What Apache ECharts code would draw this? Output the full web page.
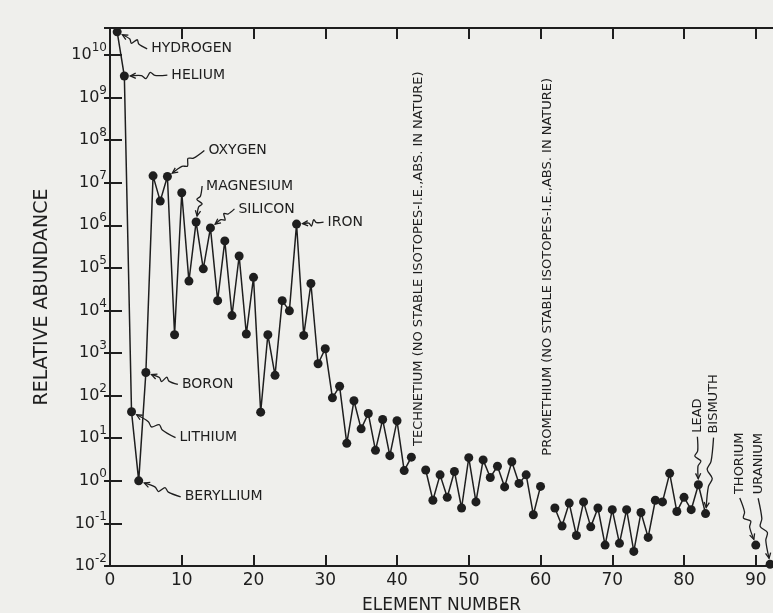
<!DOCTYPE html>
<html>
<head>
<meta charset="utf-8">
<script src="https://cdn.jsdelivr.net/npm/echarts@6/dist/echarts.min.js"></script>
<style>
  html, body { margin: 0; padding: 0; background: #efefec; }
  #main { width: 773px; height: 613px; }
</style>
</head>
<body>
<div id="main"></div>
<script>
// relative abundance, index = element number - 1 (null = no value plotted)
const abundance = [
  3.5e10, 3.2e9, 42, 1.0, 350, 1.45e7, 3.7e6, 1.4e7, 2700, 5.8e6,
  4.9e4, 1.2e6, 9.5e4, 8.7e5, 1.7e4, 4.3e5, 7600, 1.9e5, 2800, 6.0e4,
  41, 2700, 300, 1.7e4, 9800, 1.07e6, 2600, 4.3e4, 560, 1260,
  89, 166, 7.6, 76, 16.6, 38, 5.2, 27.5, 3.9, 25.7,
  1.74, 3.6, null, 1.8, 0.35, 1.38, 0.41, 1.66, 0.23, 3.5,
  0.32, 3.1, 1.2, 2.2, 0.72, 2.8, 0.87, 1.38, 0.16, 0.74,
  null, 0.23, 0.087, 0.30, 0.052, 0.32, 0.083, 0.23, 0.031, 0.21,
  0.034, 0.21, 0.022, 0.18, 0.047, 0.35, 0.32, 1.5, 0.19, 0.41,
  0.21, 0.81, 0.17, null, null, null, null, null, null, 0.031,
  null, 0.011
];
const xTicks = [0, 10, 20, 30, 40, 50, 60, 70, 80, 90];
const yTickExponents = [-2, -1, 0, 1, 2, 3, 4, 5, 6, 7, 8, 9, 10];

// labelled elements: text sits at (dx, dy) px from the point
const sideLabels = [
  { el: 1, text: 'HYDROGEN', dx: 34, dy: 17 },
  { el: 2, text: 'HELIUM', dx: 47, dy: -1 },
  { el: 8, text: 'OXYGEN', dx: 41, dy: -26 },
  { el: 12, text: 'MAGNESIUM', dx: 10, dy: -36 },
  { el: 14, text: 'SILICON', dx: 28, dy: -19 },
  { el: 26, text: 'IRON', dx: 31, dy: -2 },
  { el: 5, text: 'BORON', dx: 36, dy: 12 },
  { el: 3, text: 'LITHIUM', dx: 48, dy: 26 },
  { el: 4, text: 'BERYLLIUM', dx: 46, dy: 16 }
];
const upLabels = [
  { el: 82, text: 'LEAD', dx: -1, dy: -52 },
  { el: 83, text: 'BISMUTH', dx: 8, dy: -80 },
  { el: 90, text: 'THORIUM', dx: -16, dy: -51 },
  { el: 92, text: 'URANIUM', dx: -12, dy: -70 }
];
const noStableLabels = [
  { el: 43, at: 6.6, text: 'TECHNETIUM (NO STABLE ISOTOPES-I.E.,ABS. IN NATURE)' },
  { el: 61, at: 3.9, text: 'PROMETHIUM (NO STABLE ISOTOPES-I.E.,ABS. IN NATURE)' }
];

const ink = '#1e1e1e';
const font = '"DejaVu Sans", sans-serif';

const seriesData = abundance.map((v, i) => [i + 1, v == null ? '-' : v]);

const chart = echarts.init(document.getElementById('main'));

const xBase = {
  type: 'value', min: 0, max: 92.4,
  axisLine: { onZero: false, lineStyle: { color: ink, width: 2 } },
  axisTick: { inside: true, length: 11, customValues: xTicks, lineStyle: { color: ink, width: 2 } },
  splitLine: { show: false }
};
const yBase = {
  type: 'log', logBase: 10, min: 0.01, max: 4.3e10, interval: 1, splitNumber: 12,
  axisLine: { onZero: false, lineStyle: { color: ink, width: 2 } },
  axisTick: { inside: true, length: 12, lineStyle: { color: ink, width: 2 } },
  splitLine: { show: false }
};

chart.setOption({
  backgroundColor: '#efefec',
  animation: false,
  grid: { left: 110, right: 0, top: 28, bottom: 47, outerBoundsMode: 'none', containLabel: false },
  xAxis: [
    Object.assign({}, xBase, {
      position: 'bottom',
      name: 'ELEMENT NUMBER', nameLocation: 'middle', nameGap: 31,
      nameTextStyle: { fontFamily: font, fontSize: 17, color: ink },
      axisLabel: { customValues: xTicks, margin: 6, fontFamily: font, fontSize: 17, color: ink }
    }),
    Object.assign({}, xBase, { position: 'top', axisLabel: { show: false } })
  ],
  yAxis: [
    Object.assign({}, yBase, {
      position: 'left',
      name: 'RELATIVE ABUNDANCE', nameLocation: 'middle', nameGap: 58,
      nameTextStyle: { fontFamily: font, fontSize: 19, color: ink },
      axisLabel: {
        margin: 3, showMaxLabel: false, color: ink,
        formatter: function (v) {
          const e = Math.round(Math.log10(v));
          if (Math.abs(Math.log10(v) - e) > 1e-6 || yTickExponents.indexOf(e) < 0) return '';
          return '{b|10}{s|' + (e < 0 ? '-' + (-e) : e) + '}';
        },
        rich: {
          b: { fontFamily: font, fontSize: 16, color: ink, lineHeight: 26 },
          s: { fontFamily: font, fontSize: 12, color: ink, verticalAlign: 'top', lineHeight: 13 }
        }
      }
    }),
    Object.assign({}, yBase, {
      position: 'right',
      axisLine: { show: false },
      axisTick: { inside: true, length: 6, lineStyle: { color: ink, width: 2 } },
      axisLabel: { show: false }
    })
  ],
  series: [{
    type: 'line',
    xAxisIndex: 0, yAxisIndex: 0,
    data: seriesData,
    connectNulls: false,
    symbol: 'circle', symbolSize: 9,
    lineStyle: { color: ink, width: 1.5 },
    itemStyle: { color: ink },
    z: 3
  }]
});

// annotations positioned from the chart's own scales
function px(el, v) {
  return chart.convertToPixel({ xAxisIndex: 0, yAxisIndex: 0 }, [el, v]);
}
function wavy(ax, ay, bx, by) {
  const dx = bx - ax, dy = by - ay, len = Math.hypot(dx, dy);
  const nx = -dy / len, ny = dx / len;
  const pts = [[ax, ay]];
  [[0.3, 0], [0.42, 3], [0.54, -3], [0.66, 0]].forEach(function (p) {
    pts.push([ax + dx * p[0] + nx * p[1], ay + dy * p[0] + ny * p[1]]);
  });
  pts.push([bx, by]);
  return pts;
}
function arrowHead(tx, ty, fx, fy) {
  const a = Math.atan2(fy - ty, fx - tx);
  return [
    [tx + 6 * Math.cos(a + 0.45), ty + 6 * Math.sin(a + 0.45)],
    [tx, ty],
    [tx + 6 * Math.cos(a - 0.45), ty + 6 * Math.sin(a - 0.45)]
  ];
}
const lineStyle = { stroke: ink, lineWidth: 1.3, fill: null };
const graphics = [];

sideLabels.forEach(function (l) {
  const p = px(l.el, abundance[l.el - 1]);
  const tx = p[0] + l.dx, ty = p[1] + l.dy;
  graphics.push({ type: 'text', x: tx, y: ty, z: 10,
    style: { text: l.text, fontFamily: font, fontSize: 14, fill: ink, align: 'left', verticalAlign: 'middle' } });
  const bx = tx - 4, by = ty;
  const d = Math.hypot(bx - p[0], by - p[1]);
  const ax = p[0] + (bx - p[0]) / d * 6, ay = p[1] + (by - p[1]) / d * 6;
  graphics.push({ type: 'polyline', z: 9, shape: { points: wavy(ax, ay, bx, by), smooth: 0.3 }, style: lineStyle });
  graphics.push({ type: 'polyline', z: 9, shape: { points: arrowHead(ax, ay, bx, by) }, style: lineStyle });
});

upLabels.forEach(function (l) {
  const p = px(l.el, abundance[l.el - 1]);
  const tx = p[0] + l.dx, ty = p[1] + l.dy;
  graphics.push({ type: 'text', x: tx, y: ty, rotation: Math.PI / 2, z: 10,
    style: { text: l.text, fontFamily: font, fontSize: 13, fill: ink, align: 'left', verticalAlign: 'middle' } });
  const bx = tx, by = ty + 4;
  const d = Math.hypot(bx - p[0], by - p[1]);
  const ax = p[0] + (bx - p[0]) / d * 6, ay = p[1] + (by - p[1]) / d * 6;
  graphics.push({ type: 'polyline', z: 9, shape: { points: wavy(ax, ay, bx, by), smooth: 0.3 }, style: lineStyle });
  graphics.push({ type: 'polyline', z: 9, shape: { points: arrowHead(ax, ay, bx, by) }, style: lineStyle });
});

noStableLabels.forEach(function (l) {
  const p = px(l.el, l.at);
  graphics.push({ type: 'text', x: p[0], y: p[1], rotation: Math.PI / 2, z: 10,
    style: { text: l.text, fontFamily: font, fontSize: 13, fill: ink, align: 'left', verticalAlign: 'middle' } });
});

chart.setOption({ graphic: graphics });
</script>
</body>
</html>
